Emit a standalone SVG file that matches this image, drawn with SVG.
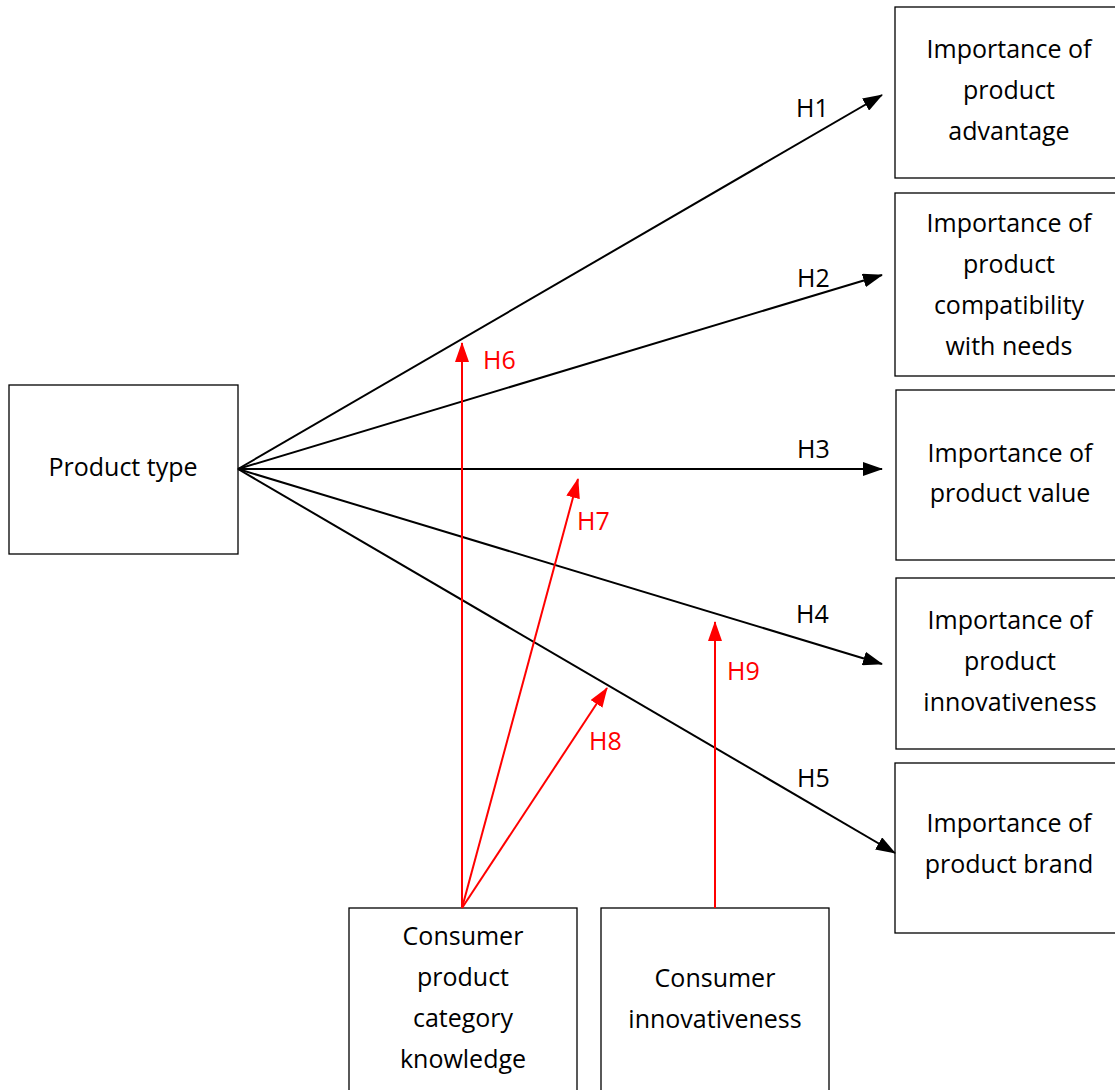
<svg xmlns="http://www.w3.org/2000/svg" width="1115" height="1090" viewBox="0 0 1115 1090">
<defs>
<style>
.box{fill:#fff;stroke:#000;stroke-width:1.3}
.t{font-family:"Open Sans","Liberation Sans",sans-serif;font-size:25px;fill:#000;text-anchor:middle}
.h{font-family:"Open Sans","Liberation Sans",sans-serif;font-size:25px;fill:#000}
.hr{font-family:"Open Sans","Liberation Sans",sans-serif;font-size:25px;fill:#ff0000}
.blk{stroke:#000;stroke-width:2;fill:none}
.red{stroke:#ff0000;stroke-width:2;fill:none}
</style>
<marker id="ab" markerUnits="userSpaceOnUse" markerWidth="20" markerHeight="14" refX="19" refY="7" orient="auto"><path d="M0,0 L20,7 L0,14 z" fill="#000"/></marker>
<marker id="ar" markerUnits="userSpaceOnUse" markerWidth="20" markerHeight="14" refX="19" refY="7" orient="auto"><path d="M0,0 L20,7 L0,14 z" fill="#ff0000"/></marker>
</defs>
<rect width="1115" height="1090" fill="#fff"/>
<g id="n-product-type"><rect class="box" x="9" y="385" width="229" height="169"/><text class="t" x="123" y="476">Product type</text></g>
<g id="n-advantage"><rect class="box" x="895" y="7" width="225" height="171"/><text class="t" x="1009" y="58">Importance of</text><text class="t" x="1009" y="99">product</text><text class="t" x="1009" y="140">advantage</text></g>
<g id="n-compat"><rect class="box" x="895" y="193" width="225" height="183"/><text class="t" x="1009" y="232">Importance of</text><text class="t" x="1009" y="273">product</text><text class="t" x="1009" y="314">compatibility</text><text class="t" x="1009" y="355">with needs</text></g>
<g id="n-value"><rect class="box" x="896" y="390" width="225" height="170"/><text class="t" x="1010" y="462">Importance of</text><text class="t" x="1010" y="502">product value</text></g>
<g id="n-innov"><rect class="box" x="896" y="578" width="225" height="171"/><text class="t" x="1010" y="629">Importance of</text><text class="t" x="1010" y="670">product</text><text class="t" x="1010" y="711">innovativeness</text></g>
<g id="n-brand"><rect class="box" x="895" y="763" width="225" height="170"/><text class="t" x="1009" y="832">Importance of</text><text class="t" x="1009" y="873">product brand</text></g>
<g id="n-knowledge"><rect class="box" x="349" y="908" width="228" height="190"/><text class="t" x="463" y="945">Consumer</text><text class="t" x="463" y="986">product</text><text class="t" x="463" y="1027">category</text><text class="t" x="463" y="1068">knowledge</text></g>
<g id="n-cinnov"><rect class="box" x="601" y="908" width="228" height="190"/><text class="t" x="715" y="987">Consumer</text><text class="t" x="715" y="1028">innovativeness</text></g>
<g id="connectors">
<line class="blk" x1="238" y1="469" x2="882" y2="95" marker-end="url(#ab)"/>
<line class="blk" x1="238" y1="469" x2="882" y2="275" marker-end="url(#ab)"/>
<line class="blk" x1="238" y1="469" x2="882" y2="469" marker-end="url(#ab)"/>
<line class="blk" x1="238" y1="469" x2="882" y2="664" marker-end="url(#ab)"/>
<line class="blk" x1="238" y1="469" x2="895" y2="853" marker-end="url(#ab)"/>
<line class="red" x1="462" y1="908" x2="462" y2="343" marker-end="url(#ar)"/>
<line class="red" x1="462" y1="908" x2="578" y2="479" marker-end="url(#ar)"/>
<line class="red" x1="462" y1="908" x2="607" y2="688" marker-end="url(#ar)"/>
<line class="red" x1="715" y1="908" x2="715" y2="622" marker-end="url(#ar)"/>
<text class="h" x="796" y="117">H1</text>
<text class="h" x="797" y="287">H2</text>
<text class="h" x="797" y="458">H3</text>
<text class="h" x="796" y="623">H4</text>
<text class="h" x="797" y="787">H5</text>
<text class="hr" x="483" y="369">H6</text>
<text class="hr" x="577" y="530">H7</text>
<text class="hr" x="589" y="750">H8</text>
<text class="hr" x="727" y="680">H9</text>
</g>
</svg>
